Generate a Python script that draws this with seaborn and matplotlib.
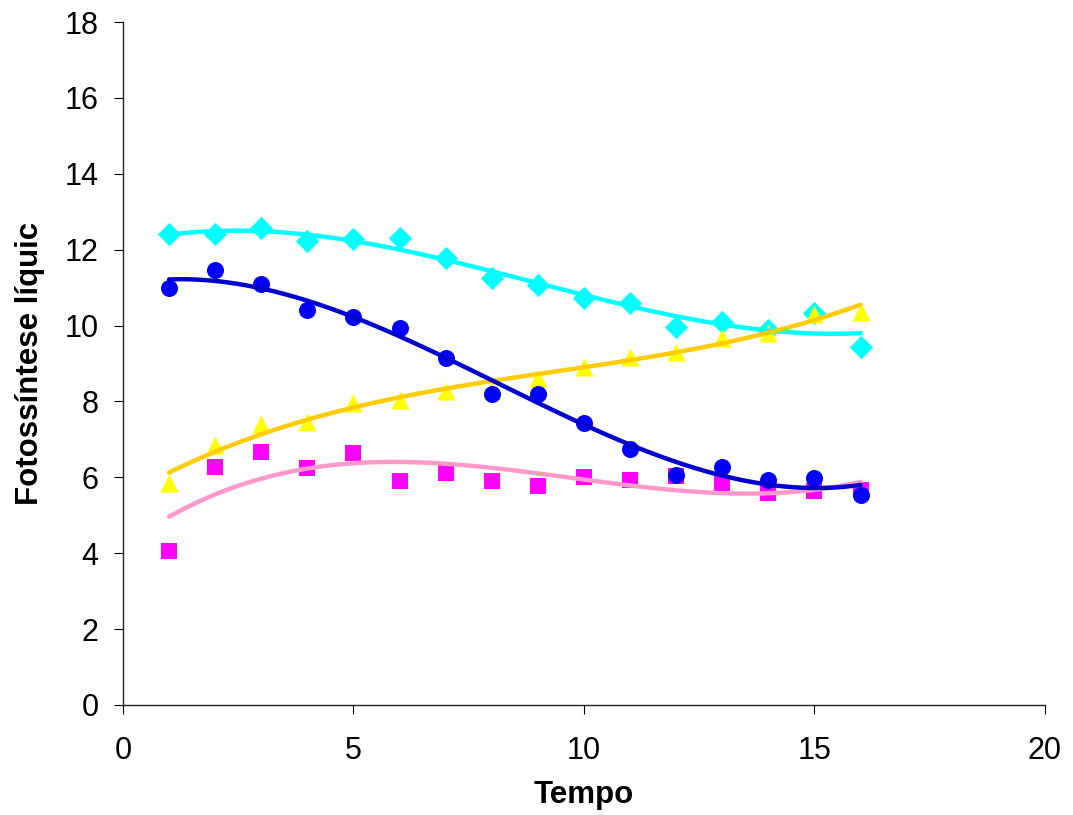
import numpy as np
import pandas as pd
import matplotlib
matplotlib.use("Agg")
import matplotlib.pyplot as plt
import seaborn as sns

# Data
tempo = [1, 2, 3, 4, 5, 6, 7, 8, 9, 10, 11, 12, 13, 14, 15, 16]
serie_ciano = [12.41, 12.41, 12.56, 12.24, 12.28, 12.30, 11.77, 11.25,
               11.07, 10.72, 10.60, 9.97, 10.10, 9.88, 10.32, 9.44]
serie_magenta = [4.07, 6.28, 6.68, 6.24, 6.63, 5.89, 6.11, 5.89,
                 5.77, 6.00, 5.94, 6.04, 5.86, 5.58, 5.64, 5.67]
serie_amarela = [5.85, 6.86, 7.40, 7.47, 7.97, 8.04, 8.27, 8.30,
                 8.62, 8.92, 9.16, 9.31, 9.68, 9.80, 10.30, 10.37]
serie_azul = [10.99, 11.47, 11.10, 10.41, 10.23, 9.94, 9.15, 8.20,
              8.20, 7.43, 6.75, 6.05, 6.28, 5.94, 5.99, 5.53]

sns.set_style("ticks")
plt.rcParams["font.family"] = ["Liberation Sans", "DejaVu Sans"]
plt.rcParams["text.color"] = "black"
plt.rcParams["axes.labelcolor"] = "black"
plt.rcParams["xtick.color"] = "black"
plt.rcParams["ytick.color"] = "black"

fig = plt.figure(figsize=(10.73, 8.15), dpi=100)
ax = fig.add_axes([0.1146, 0.135, 0.8593, 0.838])

series = [
    (serie_ciano, "D", "#00FFFF", "#00FFFF", 140),
    (serie_magenta, "s", "#FF00FF", "#FF99CC", 120),
    (serie_amarela, "^", "#FFFF00", "#FFCC00", 170),
    (serie_azul, "o", "#0000FF", "#0000CC", 150),
]

for vals, mk, cor_pt, cor_linha, tam in series:
    df = pd.DataFrame({"Tempo": tempo, "Valor": vals})
    sns.regplot(data=df, x="Tempo", y="Valor", order=3, ci=None, ax=ax,
                marker=mk,
                scatter_kws=dict(color=cor_pt, s=tam, linewidths=0, alpha=1, zorder=2),
                line_kws=dict(color=cor_linha, lw=3.2, zorder=3))

ax.set_xlim(0, 20)
ax.set_ylim(0, 18)
ax.set_xticks([0, 5, 10, 15, 20])
ax.set_yticks(range(0, 19, 2))
ax.tick_params(axis="both", labelsize=22, length=6.5, width=0.8,
               direction="out")
ax.tick_params(axis="x", pad=16)
ax.tick_params(axis="y", pad=11)
for s in ["top", "right"]:
    ax.spines[s].set_visible(False)
for s in ["left", "bottom"]:
    ax.spines[s].set_color("#222222")
    ax.spines[s].set_linewidth(1.0)

ax.set_xlabel("Tempo", fontsize=22.5, fontweight="bold", labelpad=10)
ax.set_ylabel("Fotossíntese líquic", fontsize=22.5, fontweight="bold", labelpad=14)

fig.savefig("out.png", dpi=100)
